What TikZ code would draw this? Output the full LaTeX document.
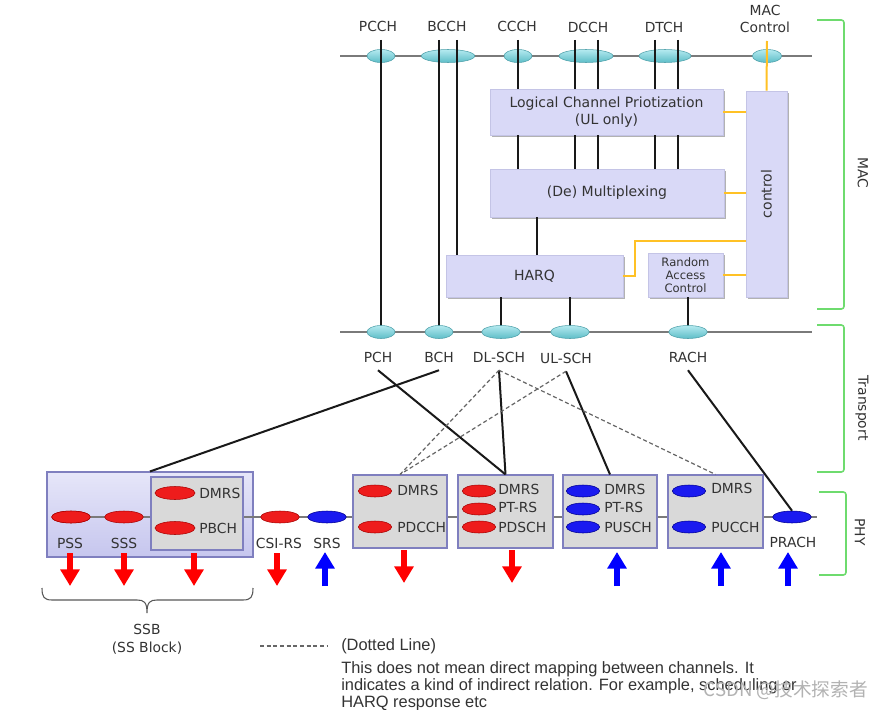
\documentclass[tikz,border=0pt]{standalone}
\usepackage{fontspec}
\setmainfont{DejaVu Sans}
\newfontfamily\legendfont{Liberation Sans}
\newfontfamily\cjkfont{Noto Sans CJK SC}
\usetikzlibrary{shapes.geometric,arrows.meta,shadows}
\definecolor{txt}{HTML}{333333}
\definecolor{boxfill}{HTML}{D9D9F7}
\definecolor{boxedge}{HTML}{C4C4E6}
\definecolor{cyanT}{HTML}{B4EAF0}
\definecolor{cyanB}{HTML}{5DBDC7}
\definecolor{cyanE}{HTML}{4C9FA9}
\definecolor{redF}{HTML}{EE1C1C}
\definecolor{redE}{HTML}{A80000}
\definecolor{blueF}{HTML}{1A1AF0}
\definecolor{blueE}{HTML}{000090}
\definecolor{redA}{HTML}{FF0000}
\definecolor{blueA}{HTML}{0000FF}
\definecolor{orangeL}{HTML}{FFC125}
\definecolor{greenB}{HTML}{6EDB6E}
\definecolor{phyfill}{HTML}{D9D9D9}
\definecolor{phyedge}{HTML}{7F7FBF}
\definecolor{ssbT}{HTML}{E6E6F9}
\definecolor{ssbB}{HTML}{C6C6EE}
\definecolor{busline}{HTML}{7A7A7A}
\tikzset{
  lbl/.style={text=txt, font=\fontsize{10.4}{12.75}\selectfont, inner sep=0pt},
  tlbl/.style={lbl, outer sep=6pt},
  mbox/.style={rectangle, fill=boxfill, draw=boxedge, line width=0.5pt, text=txt,
    font=\fontsize{10.5}{13}\selectfont, align=center, inner sep=0pt,
    drop shadow={shadow xshift=1.5pt, shadow yshift=-1.5pt, fill=black, opacity=0.3}},
  cyell/.style={ellipse, inner sep=0pt, minimum height=9.75pt, top color=cyanT, bottom color=cyanB, draw=cyanE, line width=0.4pt},
  redell/.style={ellipse, inner sep=0pt, minimum width=29pt, minimum height=9pt, fill=redF, draw=redE, line width=0.4pt},
  bluell/.style={ellipse, inner sep=0pt, minimum width=29pt, minimum height=9pt, fill=blueF, draw=blueE, line width=0.4pt},
  smallell/.style={minimum width=25pt, minimum height=9pt},
  bus/.style={draw=busline, line width=1.1pt},
  chline/.style={draw=black!90, line width=1.5pt},
  ctl/.style={draw=orangeL, line width=1.5pt},
  dotc/.style={draw=black!60, line width=0.9pt, dash pattern=on 3pt off 2pt},
  ssbbox/.style={rectangle, top color=ssbT, bottom color=ssbB, draw=phyedge, line width=0.8pt, inner sep=0pt},
  phybox/.style={rectangle, fill=phyfill, draw=phyedge, line width=0.8pt, inner sep=0pt, minimum height=54.75pt},
  redarr/.style={draw=redA, line width=5pt, -{Triangle[width=14pt,length=12.5pt]}},
  bluarr/.style={draw=blueA, line width=5pt, -{Triangle[width=14pt,length=12.5pt]}},
  grbr/.style={draw=greenB, line width=1.2pt, rounded corners=2pt},
  bracestyle/.style={draw=black!65, line width=0.8pt},
  legendtxt/.style={text=txt, font=\legendfont\fontsize{12.3}{12.75}\selectfont, inner sep=0pt}
}
\begin{document}
\begin{tikzpicture}[x=0.75pt,y=-0.75pt]
\useasboundingbox (0,0) rectangle (883,710);
\fill[white] (0,0) rectangle (883,710);

% ---------------- buses ----------------
\coordinate (lchL) at (340,56);
\coordinate (lchR) at (812,56);
\coordinate (trL) at (340,332);
\coordinate (trR) at (812,332);
\draw[bus] (lchL) -- (lchR);
\draw[bus] (trL) -- (trR);

% ---------------- logical channels ----------------
\node[cyell, minimum width=21pt] (pcch) at (381,56) {};
\node[cyell, minimum width=40pt] (bcch) at (448,56) {};
\node[cyell, minimum width=21pt] (ccch) at (518,56) {};
\node[cyell, minimum width=40.5pt] (dcch) at (586,56) {};
\node[cyell, minimum width=39pt] (dtch) at (665,56) {};
\node[cyell, minimum width=22pt] (macc) at (767,56) {};

\node[lbl] (pcchL) at (378,26) {PCCH};
\node[lbl] (bcchL) at (447,26) {BCCH};
\node[lbl] (ccchL) at (517,26) {CCCH};
\node[lbl] (dcchL) at (588,27) {DCCH};
\node[lbl] (dtchL) at (664,27) {DTCH};
\node[lbl, align=center] (maccL) at (765,19) {MAC\\Control};

% ---------------- MAC boxes ----------------
\node[mbox, minimum width=174.75pt, minimum height=34.5pt] (lcp) at (606.5,112) {Logical Channel Priotization\\(UL only)};
\node[mbox, minimum width=175.5pt, minimum height=36pt] (mux) at (607,193) {(De) Multiplexing};
\node[mbox, minimum width=132.75pt, minimum height=31.5pt] (harq) at (534.5,276) {HARQ};
\node[mbox, minimum width=56.25pt, minimum height=33pt, font=\fontsize{8.7}{9.8}\selectfont] (rac) at (685.5,275) {Random\\Access\\Control};
\node[mbox, minimum width=30.75pt, minimum height=154.5pt] (ctrl) at (766.5,194) {};
\node[lbl, rotate=90, font=\fontsize{10.5}{13}\selectfont] (ctrlL) at (ctrl.center) {control};

% ---------------- channel lines ----------------
\coordinate (pcchT) at (381,40);
\coordinate (bcchT1) at (439,40);
\coordinate (bcchT2) at (457,40);
\coordinate (ccchT) at (518,40);
\coordinate (dcchT1) at (575,40);
\coordinate (dcchT2) at (598,40);
\coordinate (dtchT1) at (655,40);
\coordinate (dtchT2) at (678,40);
\coordinate (maccT) at (767,41);

\draw[chline] (pcchT) -- (381,332) coordinate (pchC);
\draw[chline] (bcchT1) -- (439,332) coordinate (bchC);
\draw[chline] (bcchT2) -- (bcchT2 |- harq.north);
\foreach \c in {ccchT,dcchT1,dcchT2,dtchT1,dtchT2}{
  \draw[chline] (\c) -- (\c |- lcp.north);
  \draw[chline] (\c |- lcp.south) -- (\c |- mux.north);
}
\coordinate (muxH) at (537,217);
\draw[chline] (muxH |- mux.south) -- (muxH |- harq.north);
\draw[chline] (501,297) coordinate (harqD) -- (501,332) coordinate (dlC);
\draw[chline] (570,297) coordinate (harqU) -- (570,332) coordinate (ulC);
\draw[chline] (688,297) coordinate (racD) -- (688,332) coordinate (raC);

% ---------------- control (orange) ----------------
\draw[ctl] (maccT) -- (ctrl.north);
\draw[ctl] (lcp.east) -- (lcp.east -| ctrl.west);
\draw[ctl] (mux.east) -- (mux.east -| ctrl.west);
\draw[ctl] (harq.east) -| (635,241) -- (ctrl.west |- 0,241);
\draw[ctl] (rac.east) -- (rac.east -| ctrl.west);

% ---------------- transport channels ----------------
\node[cyell, minimum width=21pt] (pch) at (pchC) {};
\node[cyell, minimum width=21pt] (bch) at (bchC) {};
\node[cyell, minimum width=29pt] (dlsch) at (dlC) {};
\node[cyell, minimum width=29pt] (ulsch) at (ulC) {};
\node[cyell, minimum width=29pt] (rach) at (raC) {};

\node[tlbl] (pchL) at (378,357) {PCH};
\node[tlbl] (bchL) at (439,357) {BCH};
\node[tlbl] (dlschL) at (499,357) {DL-SCH};
\node[tlbl] (ulschL) at (566,358) {UL-SCH};
\node[tlbl] (rachL) at (688,357) {RACH};

% ---------------- PHY ----------------
\node[ssbbox, minimum width=154.5pt, minimum height=63.75pt] (ssb) at (150,514.5) {};
\node[redell] (pss) at (71,517) {};
\coordinate (phyR) at (817,517);
\draw[bus] (pss.center) -- (phyR);
\node[phybox, minimum width=69pt] (pbchbox) at (197,513.5) {};
\node[phybox, minimum width=70.5pt] (pdcchbox) at (400,511.5) {};
\node[phybox, minimum width=71.25pt] (pdschbox) at (505.5,511.5) {};
\node[phybox, minimum width=70.5pt] (puschbox) at (610,511.5) {};
\node[phybox, minimum width=71.25pt] (pucchbox) at (715.5,511.5) {};

\node[redell] (pss) at (71,517) {};
\node[redell] (sss) at (124,517) {};
\node[redell] (csirs) at (280,517) {};
\node[bluell] (srs) at (327,517) {};
\node[bluell] (prach) at (792,517) {};

\node[redell, minimum width=30pt, minimum height=9.75pt] (ssbdmrs) at (175,493) {};
\node[redell, minimum width=30pt, minimum height=9.75pt] (pbch) at (175,528) {};
\node[lbl, anchor=west] (ssbdmrsL) at (199,493) {DMRS};
\node[lbl, anchor=west] (pbchL) at (199,528) {PBCH};

\node[redell, smallell] (pdcchdmrs) at (375,491) {};
\node[redell, smallell] (pdcch) at (375,527) {};
\node[lbl, anchor=west] (pdcchdmrsL) at (397,490) {DMRS};
\node[lbl, anchor=west] (pdcchL) at (397,527) {PDCCH};

\node[redell, smallell] (pdschdmrs) at (479,491) {};
\node[redell, smallell] (pdschptrs) at (479,509) {};
\node[redell, smallell] (pdsch) at (479,527) {};
\node[lbl, anchor=west] (pdschdmrsL) at (498,489) {DMRS};
\node[lbl, anchor=west] (pdschptrsL) at (498,507) {PT-RS};
\node[lbl, anchor=west] (pdschL) at (498,527) {PDSCH};

\node[bluell, smallell] (puschdmrs) at (583,491) {};
\node[bluell, smallell] (puschptrs) at (583,509) {};
\node[bluell, smallell] (pusch) at (583,527) {};
\node[lbl, anchor=west] (puschdmrsL) at (604,489) {DMRS};
\node[lbl, anchor=west] (puschptrsL) at (604,507) {PT-RS};
\node[lbl, anchor=west] (puschL) at (604,527) {PUSCH};

\node[bluell, smallell] (pucchdmrs) at (689,491) {};
\node[bluell, smallell] (pucch) at (689,527) {};
\node[lbl, anchor=west] (pucchdmrsL) at (711,488) {DMRS};
\node[lbl, anchor=west] (pucchL) at (711,527) {PUCCH};

\node[lbl] (pssL) at (70,543) {PSS};
\node[lbl] (sssL) at (124,543) {SSS};
\node[lbl] (csirsL) at (279,543) {CSI-RS};
\node[lbl] (srsL) at (327,543) {SRS};
\node[lbl] (prachL) at (793,542) {PRACH};

% ---------------- transport -> PHY ----------------
\draw[chline] (bchL.south) -- (ssb.north);
\draw[chline] (pchL.south) -- (pdschbox.north);
\draw[chline] (dlschL.south) -- (pdschbox.north);
\draw[chline] (ulschL.south) -- (puschbox.north);
\draw[chline] (rachL.south) -- (prach.north);
\draw[dotc] (dlschL.south) -- (pdcchbox.north);
\draw[dotc] (dlschL.south) -- (pucchbox.north);
\draw[dotc] (ulschL.south) -- (pdcchbox.north);

% ---------------- arrows ----------------
\foreach \x/\n/\t in {70/a/553,124/b/553,194/c/553,277/d/553,404/e/550,512/f/550}{
  \coordinate (rs\n) at (\x,\t);
  \coordinate (re\n) at (\x,\t+33);
  \draw[redarr] (rs\n) -- (re\n);
}
\foreach \x/\n in {325/a,617/b,721/c,788/d}{
  \coordinate (bs\n) at (\x,586);
  \coordinate (be\n) at (\x,552);
  \draw[bluarr] (bs\n) -- (be\n);
}

% ---------------- SSB brace ----------------
\draw[bracestyle] (42,588) .. controls (42,597) and (44,600) .. (52,600) -- (137,600)
  .. controls (144,600) and (147,602) .. (147,613)
  .. controls (147,602) and (150,600) .. (157,600) -- (243,600)
  .. controls (251,600) and (253,597) .. (253,588);
\node[lbl, align=center, font=\fontsize{10.4}{13.5}\selectfont] (ssbL) at (147,639) {SSB\\(SS Block)};

% ---------------- layer brackets ----------------
\draw[grbr] (817,20) -- (844,20) -- (844,309) -- (817,309);
\draw[grbr] (817,325) -- (844,325) -- (844,472) -- (817,472);
\draw[grbr] (819,492) -- (846,492) -- (846,575) -- (819,575);
\node[lbl, rotate=-90] (macL) at (863,173) {MAC};
\node[lbl, rotate=-90] (trpL) at (862,408) {Transport};
\node[lbl, rotate=-90] (phyL) at (860,532) {PHY};

% ---------------- legend ----------------
\coordinate (lgA) at (260,646);
\coordinate (lgB) at (328,646);
\draw[dotc] (lgA) -- (lgB);
\node[legendtxt, anchor=west] (lgT) at (341,646) {(Dotted Line)};
\node[legendtxt, anchor=north west, align=left] (lgP) at (341,661) {This does not mean direct mapping between channels. It\\indicates a kind of indirect relation. For example, scheduling or\\HARQ response etc};

\node[anchor=east, inner sep=0pt, text=black!30, font=\cjkfont\fontsize{14}{14}\selectfont] (wm) at (868,690) {CSDN @技术探索者};
\end{tikzpicture}
\end{document}
